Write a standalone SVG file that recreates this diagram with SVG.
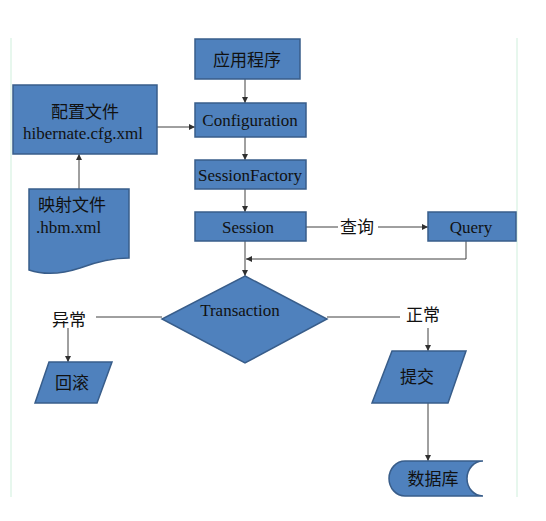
<svg xmlns="http://www.w3.org/2000/svg" width="546" height="521" viewBox="0 0 546 521">
<style>
.n{fill:#4F81BD;stroke:#385D8A;stroke-width:1.5}
.t{font-family:"Liberation Serif","Noto Sans CJK SC",serif;font-size:17px;fill:#111;text-anchor:middle;dominant-baseline:central}
.c{fill:none;stroke:#404040;stroke-width:1}
.frame{stroke:#CFEFDC;stroke-width:1}
</style>
<defs>
<marker id="a" viewBox="0 0 6 6" refX="6" refY="3" markerWidth="6" markerHeight="6" orient="auto" markerUnits="userSpaceOnUse">
<path d="M0,0 L6,3 L0,6 Z" fill="#303030"/>
</marker>
</defs>
<rect width="546" height="521" fill="#fff"/>
<line class="frame" x1="11" y1="38" x2="11" y2="497"/>
<line class="frame" x1="517" y1="38" x2="517" y2="497"/>
<g id="connectors">
<line class="c" x1="245" y1="79" x2="245" y2="103" marker-end="url(#a)"/>
<line class="c" x1="157" y1="127" x2="195" y2="127" marker-end="url(#a)"/>
<line class="c" x1="79" y1="189" x2="79" y2="154" marker-end="url(#a)"/>
<line class="c" x1="245" y1="137" x2="245" y2="160" marker-end="url(#a)"/>
<line class="c" x1="245" y1="189" x2="245" y2="212" marker-end="url(#a)"/>
<line class="c" x1="306" y1="227" x2="338" y2="227"/>
<line class="c" x1="378" y1="227" x2="428" y2="227" marker-end="url(#a)"/>
<polyline class="c" points="466,241 466,259 246,259" marker-end="url(#a)"/>
<line class="c" x1="245" y1="241" x2="245" y2="276" marker-end="url(#a)"/>
<line class="c" x1="162" y1="317" x2="96" y2="317"/>
<line class="c" x1="68" y1="328" x2="68" y2="362" marker-end="url(#a)"/>
<line class="c" x1="327" y1="317" x2="400" y2="317"/>
<line class="c" x1="428" y1="328" x2="428" y2="351" marker-end="url(#a)"/>
<line class="c" x1="428" y1="403" x2="428" y2="461" marker-end="url(#a)"/>
<text class="t" x="357" y="227" font-size="16">查询</text>
<text class="t" x="69" y="320" font-size="16">异常</text>
<text class="t" x="423" y="315" font-size="16">正常</text>
</g>
<g id="app">
<rect class="n" x="195" y="39" width="105" height="40"/>
<text class="t" x="247" y="60">应用程序</text>
</g>
<g id="config">
<rect class="n" x="195" y="103" width="111" height="34"/>
<text class="t" x="250" y="120">Configuration</text>
</g>
<g id="cfgfile">
<rect class="n" x="13" y="85" width="144" height="69"/>
<text class="t" x="85" y="112">配置文件</text>
<text class="t" x="83" y="133">hibernate.cfg.xml</text>
</g>
<g id="mapping">
<path class="n" d="M29,189 H129 V258 C112,258 96,262 80,268 C62,274 44,275 29,270 Z"/>
<text class="t" x="38" y="205" style="text-anchor:start">映射文件</text>
<text class="t" x="36" y="227" style="text-anchor:start">.hbm.xml</text>
</g>
<g id="sf">
<rect class="n" x="195" y="160" width="111" height="29"/>
<text class="t" x="250" y="175">SessionFactory</text>
</g>
<g id="session">
<rect class="n" x="195" y="212" width="111" height="29"/>
<text class="t" x="248" y="227">Session</text>
</g>
<g id="query">
<rect class="n" x="428" y="212" width="88" height="29"/>
<text class="t" x="471" y="227">Query</text>
</g>
<g id="transaction">
<polygon class="n" points="245,276 327,319 245,363 162,319"/>
<text class="t" x="240" y="310">Transaction</text>
</g>
<g id="rollback">
<polygon class="n" points="49,362 112,362 97,403 35,403"/>
<text class="t" x="72" y="383">回滚</text>
</g>
<g id="commit">
<polygon class="n" points="392,351 466,351 448,403 372,403"/>
<text class="t" x="417" y="377">提交</text>
</g>
<g id="db">
<path class="n" d="M483,461 H405 A16 17.5 0 0 0 405,496 H483 A16 17.5 0 0 1 483,461 Z"/>
<text class="t" x="433" y="479">数据库</text>
</g>
</svg>
